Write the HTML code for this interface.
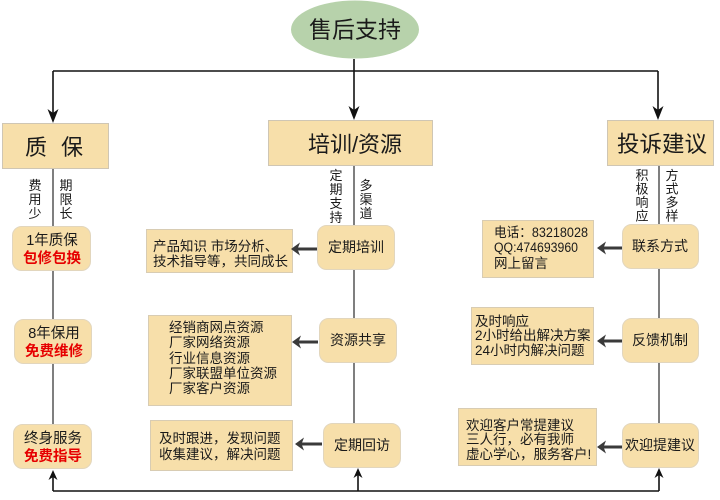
<!DOCTYPE html>
<html>
<head>
<meta charset="utf-8">
<style>
html,body{margin:0;padding:0;background:#fff;}
svg{display:block;}
text{font-family:"Liberation Sans","Noto Sans CJK SC",sans-serif;fill:#1a1a1a;}
.red{fill:#e60000;font-weight:bold;}
</style>
</head>
<body>
<svg width="720" height="500" viewBox="0 0 720 500" xmlns="http://www.w3.org/2000/svg">

<!-- root ellipse -->
<ellipse cx="355" cy="29.5" rx="64" ry="29" fill="#b7d2ab"/>
<text x="355" y="37.5" font-size="23" text-anchor="middle">售后支持</text>

<!-- top connectors -->
<g stroke="#111" stroke-width="1.6" fill="none">
  <line x1="354" y1="59" x2="354" y2="114"/>
  <line x1="53" y1="71" x2="658" y2="71"/>
  <line x1="53" y1="71" x2="53" y2="117"/>
  <line x1="658" y1="71" x2="658" y2="114"/>
</g>
<g fill="#111">
  <path d="M354 120 L348.5 106 L354 110 L359.5 106 Z"/>
  <path d="M53 123 L47.5 109 L53 113 L58.5 109 Z"/>
  <path d="M658 120 L652.5 106 L658 110 L663.5 106 Z"/>
</g>

<!-- top boxes -->
<g fill="#f7dfaa" stroke="#cfc6b4" stroke-width="1">
  <rect x="2.5" y="123.5" width="106" height="45"/>
  <rect x="268.5" y="120.5" width="164" height="45"/>
  <rect x="607.5" y="120.5" width="106" height="45"/>
</g>
<text x="36" y="155" font-size="22" text-anchor="middle">质</text>
<text x="72" y="155" font-size="22" text-anchor="middle">保</text>
<text x="355" y="152" font-size="22" text-anchor="middle">培训/资源</text>
<text x="662" y="152" font-size="22.5" text-anchor="middle">投诉建议</text>

<!-- column vertical lines -->
<g stroke="#555" stroke-width="1.5">
  <line x1="53" y1="169" x2="53" y2="424"/>
  <line x1="354" y1="166" x2="354" y2="423"/>
  <line x1="659" y1="166" x2="659" y2="423"/>
</g>

<!-- vertical labels -->
<g font-size="13" text-anchor="middle">
  <text x="35" y="190"><tspan x="35">费</tspan><tspan x="35" dy="14">用</tspan><tspan x="35" dy="14">少</tspan></text>
  <text x="66" y="190"><tspan x="66">期</tspan><tspan x="66" dy="14">限</tspan><tspan x="66" dy="14">长</tspan></text>
  <text x="336" y="180"><tspan x="336">定</tspan><tspan x="336" dy="14">期</tspan><tspan x="336" dy="14">支</tspan><tspan x="336" dy="14">持</tspan></text>
  <text x="366" y="190"><tspan x="366">多</tspan><tspan x="366" dy="14">渠</tspan><tspan x="366" dy="14">道</tspan></text>
  <text x="642" y="180"><tspan x="642">积</tspan><tspan x="642" dy="13.5">极</tspan><tspan x="642" dy="13.5">响</tspan><tspan x="642" dy="13.5">应</tspan></text>
  <text x="672" y="180"><tspan x="672">方</tspan><tspan x="672" dy="13.5">式</tspan><tspan x="672" dy="13.5">多</tspan><tspan x="672" dy="13.5">样</tspan></text>
</g>

<!-- rounded boxes -->
<g fill="#f7dfaa" stroke="#e2d6bd" stroke-width="1">
  <rect x="12.5" y="226.5" width="78" height="44" rx="9"/>
  <rect x="14.5" y="319.5" width="77" height="44" rx="9"/>
  <rect x="13.5" y="424.5" width="78" height="44" rx="9"/>
  <rect x="317.5" y="225.5" width="77" height="44" rx="9"/>
  <rect x="319.5" y="318.5" width="77" height="44" rx="9"/>
  <rect x="323.5" y="423.5" width="77" height="44" rx="9"/>
  <rect x="622.5" y="224.5" width="76" height="44" rx="9"/>
  <rect x="622.5" y="318.5" width="76" height="44" rx="9"/>
  <rect x="622.5" y="423.5" width="76" height="44" rx="9"/>
</g>

<!-- left column text -->
<text x="52" y="245" font-size="14.5" text-anchor="middle">1年质保</text>
<text x="52" y="263" font-size="14.5" text-anchor="middle" class="red">包修包换</text>
<text x="54" y="338" font-size="14.5" text-anchor="middle">8年保用</text>
<text x="54" y="356" font-size="14.5" text-anchor="middle" class="red">免费维修</text>
<text x="53" y="443" font-size="14.5" text-anchor="middle">终身服务</text>
<text x="53" y="461" font-size="14.5" text-anchor="middle" class="red">免费指导</text>

<!-- middle/right box text -->
<g font-size="14" text-anchor="middle">
  <text x="356" y="252">定期培训</text>
  <text x="358" y="345">资源共享</text>
  <text x="362" y="450">定期回访</text>
  <text x="660" y="251">联系方式</text>
  <text x="660" y="345">反馈机制</text>
  <text x="660" y="450">欢迎提建议</text>
</g>

<!-- text boxes -->
<g fill="#f7dfaa" stroke="#d8ccb3" stroke-width="1">
  <rect x="146.5" y="229.5" width="146" height="43"/>
  <rect x="148.5" y="315.5" width="143" height="90"/>
  <rect x="150.5" y="420.5" width="142" height="50"/>
  <rect x="482.5" y="220.5" width="111" height="57"/>
  <rect x="471.5" y="307.5" width="122" height="57"/>
  <rect x="458.5" y="408.5" width="138" height="57"/>
</g>

<g font-size="13.5">
  <text x="153" y="251">产品知识 市场分析、</text>
  <text x="153" y="266">技术指导等，共同成长</text>

  <text x="169" y="332">经销商网点资源</text>
  <text x="169" y="347">厂家网络资源</text>
  <text x="169" y="363">行业信息资源</text>
  <text x="169" y="378">厂家联盟单位资源</text>
  <text x="169" y="393">厂家客户资源</text>

  <text x="159" y="443">及时跟进，发现问题</text>
  <text x="159" y="459">收集建议，解决问题</text>

  <text x="494" y="237" textLength="94" lengthAdjust="spacingAndGlyphs">电话：83218028</text>
  <text x="494" y="252" textLength="84" lengthAdjust="spacingAndGlyphs">QQ:474693960</text>
  <text x="494" y="268">网上留言</text>

  <text x="475" y="326">及时响应</text>
  <text x="475" y="340">2小时给出解决方案</text>
  <text x="475" y="355">24小时内解决问题</text>

  <text x="466" y="430">欢迎客户常提建议</text>
  <text x="466" y="444">三人行，必有我师</text>
  <text x="466" y="459">虚心学心，服务客户!</text>
</g>

<!-- thick left arrows -->
<g stroke="#3a3a3a" stroke-width="3">
  <line x1="297" y1="249" x2="317" y2="249"/>
  <line x1="298" y1="342" x2="318" y2="342"/>
  <line x1="301" y1="444" x2="322" y2="444"/>
  <line x1="603" y1="248" x2="622" y2="248"/>
  <line x1="603" y1="341" x2="622" y2="341"/>
  <line x1="603" y1="447" x2="622" y2="447"/>
</g>
<g fill="#3a3a3a">
  <path d="M291 249 L300 242.5 L297.5 249 L300 255.5 Z"/>
  <path d="M292 342 L301 335.5 L298.5 342 L301 348.5 Z"/>
  <path d="M295 444 L304 437.5 L301.5 444 L304 450.5 Z"/>
  <path d="M597 248 L606 241.5 L603.5 248 L606 254.5 Z"/>
  <path d="M597 341 L606 334.5 L603.5 341 L606 347.5 Z"/>
  <path d="M597 447 L606 440.5 L603.5 447 L606 453.5 Z"/>
</g>

<!-- bottom feedback line -->
<g stroke="#111" stroke-width="1.6" fill="none">
  <line x1="53" y1="491" x2="659" y2="491"/>
  <line x1="53" y1="491" x2="53" y2="476"/>
  <line x1="358" y1="491" x2="358" y2="474"/>
  <line x1="659" y1="491" x2="659" y2="474"/>
</g>
<g fill="#111">
  <path d="M53 470 L48.5 480 L53 477 L57.5 480 Z"/>
  <path d="M358 468 L353.5 478 L358 475 L362.5 478 Z"/>
  <path d="M659 468 L654.5 478 L659 475 L663.5 478 Z"/>
</g>
</svg>
</body>
</html>
